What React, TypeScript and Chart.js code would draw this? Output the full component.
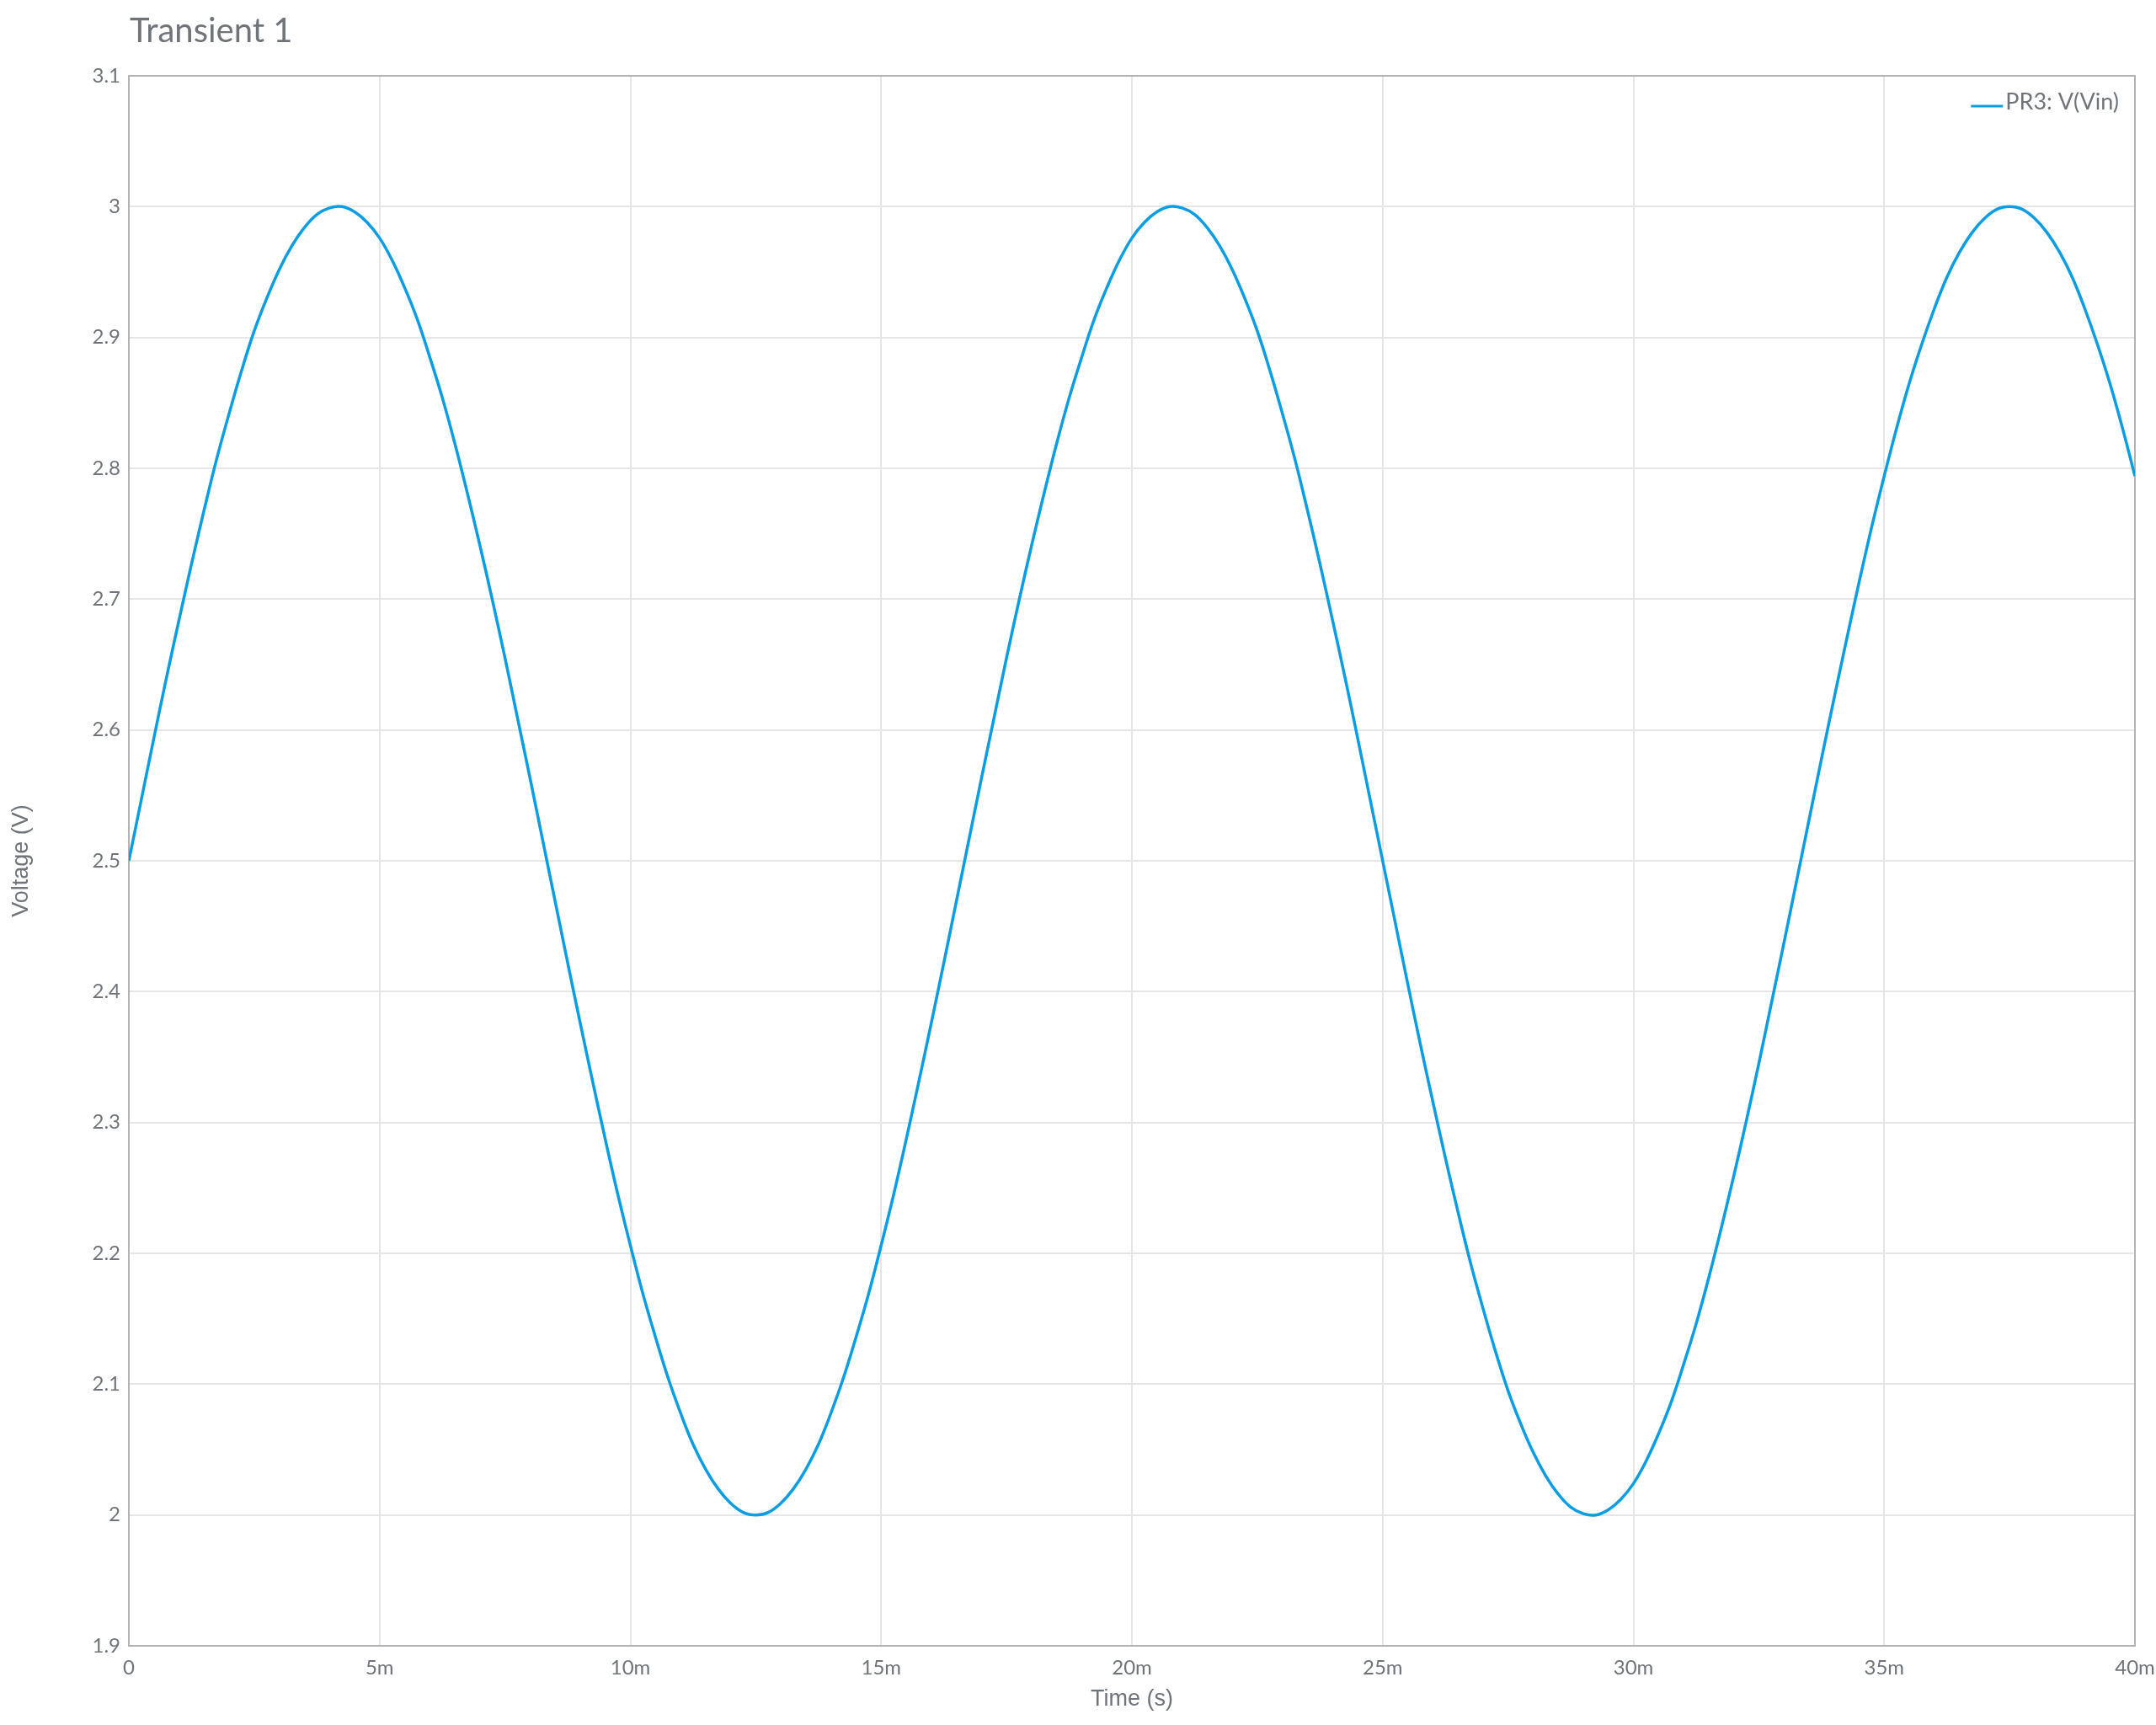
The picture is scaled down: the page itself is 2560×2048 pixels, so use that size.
import React, { useEffect, useRef } from "react";
import { Chart, registerables } from "chart.js";

Chart.register(...registerables);

const TITLE = "Transient 1";
const SERIES_LABEL = "PR3: V(Vin)";
const X_TITLE = "Time (s)";
const Y_TITLE = "Voltage (V)";

// time in milliseconds
const TIME_MS = [
  0, 0.25, 0.5, 0.75, 1, 1.25, 1.5, 1.75, 2, 2.25, 2.5, 2.75, 3, 3.25, 3.5, 3.75,
  4, 4.25, 4.5, 4.75, 5, 5.25, 5.5, 5.75, 6, 6.25, 6.5, 6.75, 7, 7.25, 7.5, 7.75,
  8, 8.25, 8.5, 8.75, 9, 9.25, 9.5, 9.75, 10, 10.25, 10.5, 10.75, 11, 11.25, 11.5, 11.75,
  12, 12.25, 12.5, 12.75, 13, 13.25, 13.5, 13.75, 14, 14.25, 14.5, 14.75, 15, 15.25, 15.5, 15.75,
  16, 16.25, 16.5, 16.75, 17, 17.25, 17.5, 17.75, 18, 18.25, 18.5, 18.75, 19, 19.25, 19.5, 19.75,
  20, 20.25, 20.5, 20.75, 21, 21.25, 21.5, 21.75, 22, 22.25, 22.5, 22.75, 23, 23.25, 23.5, 23.75,
  24, 24.25, 24.5, 24.75, 25, 25.25, 25.5, 25.75, 26, 26.25, 26.5, 26.75, 27, 27.25, 27.5, 27.75,
  28, 28.25, 28.5, 28.75, 29, 29.25, 29.5, 29.75, 30, 30.25, 30.5, 30.75, 31, 31.25, 31.5, 31.75,
  32, 32.25, 32.5, 32.75, 33, 33.25, 33.5, 33.75, 34, 34.25, 34.5, 34.75, 35, 35.25, 35.5, 35.75,
  36, 36.25, 36.5, 36.75, 37, 37.25, 37.5, 37.75, 38, 38.25, 38.5, 38.75, 39, 39.25, 39.5, 39.75,
  40,
];

// voltage in volts
const VOLTAGE = [
  2.5, 2.547, 2.594, 2.64, 2.684, 2.727, 2.768, 2.807, 2.842, 2.875,
  2.905, 2.93, 2.952, 2.97, 2.984, 2.994, 2.999, 3.0, 2.996, 2.988,
  2.976, 2.959, 2.938, 2.914, 2.885, 2.854, 2.819, 2.781, 2.741, 2.699,
  2.655, 2.609, 2.563, 2.516, 2.469, 2.422, 2.376, 2.331, 2.287, 2.245,
  2.206, 2.169, 2.136, 2.105, 2.078, 2.054, 2.035, 2.02, 2.009, 2.002,
  2.0, 2.002, 2.009, 2.02, 2.035, 2.054, 2.078, 2.105, 2.136, 2.169,
  2.206, 2.245, 2.287, 2.331, 2.376, 2.422, 2.469, 2.516, 2.563, 2.609,
  2.655, 2.699, 2.741, 2.781, 2.819, 2.854, 2.885, 2.914, 2.938, 2.959,
  2.976, 2.988, 2.996, 3.0, 2.999, 2.994, 2.984, 2.97, 2.952, 2.93,
  2.905, 2.875, 2.842, 2.807, 2.768, 2.727, 2.684, 2.64, 2.594, 2.547,
  2.5, 2.453, 2.406, 2.36, 2.316, 2.273, 2.232, 2.193, 2.158, 2.125,
  2.095, 2.07, 2.048, 2.03, 2.016, 2.006, 2.001, 2.0, 2.004, 2.012,
  2.024, 2.041, 2.062, 2.086, 2.115, 2.146, 2.181, 2.219, 2.259, 2.301,
  2.345, 2.391, 2.437, 2.484, 2.531, 2.578, 2.624, 2.669, 2.713, 2.755,
  2.794, 2.831, 2.865, 2.895, 2.922, 2.946, 2.965, 2.98, 2.991, 2.998,
  3.0, 2.998, 2.991, 2.98, 2.965, 2.946, 2.922, 2.895, 2.865, 2.831,
  2.794,
];

const X_TICK_LABELS = ["0", "5m", "10m", "15m", "20m", "25m", "30m", "35m", "40m"];
const Y_TICK_LABELS = [
  "1.9", "2", "2.1", "2.2", "2.3", "2.4", "2.5", "2.6", "2.7", "2.8", "2.9", "3", "3.1",
];

const LINE_COLOR = "#0a9de3";
const TEXT_COLOR = "#707479";
const GRID_COLOR = "#e6e6e6";
const BORDER_COLOR = "#b3b3b3";

const framePlugin = {
  id: "frame",
  beforeDatasetsDraw(chart: any) {
    const { ctx, chartArea } = chart;
    ctx.save();
    ctx.strokeStyle = BORDER_COLOR;
    ctx.lineWidth = 2;
    ctx.strokeRect(chartArea.left, chartArea.top, chartArea.right - chartArea.left, chartArea.bottom - chartArea.top);
    ctx.restore();
  },
  afterDraw(chart: any) {
    const { ctx, chartArea } = chart;
    ctx.save();
    // title
    ctx.fillStyle = TEXT_COLOR;
    ctx.font = "40px Lato";
    ctx.textBaseline = "alphabetic";
    ctx.textAlign = "left";
    ctx.fillText(TITLE, chartArea.left + 1, 50);
    // legend
    const ds = chart.data.datasets[0];
    ctx.font = "27px Lato";
    ctx.textBaseline = "middle";
    const label = ds.label as string;
    const w = ctx.measureText(label).width;
    const textRight = chartArea.right - 19;
    const textLeft = textRight - w;
    ctx.fillText(label, textLeft, chartArea.top + 31);
    const ly = chartArea.top + 36;
    ctx.strokeStyle = ds.borderColor;
    ctx.lineWidth = 3;
    ctx.beginPath();
    ctx.moveTo(textLeft - 41, ly);
    ctx.lineTo(textLeft - 3, ly);
    ctx.stroke();
    ctx.restore();
  },
};

export default function App() {
  const canvasRef = useRef<HTMLCanvasElement | null>(null);

  useEffect(() => {
    document.body.style.margin = "0";
    const canvas = canvasRef.current;
    if (!canvas) return;
    const points = TIME_MS.map((t, i) => ({ x: t, y: VOLTAGE[i] }));
    const chart = new Chart(canvas, {
      type: "line",
      data: {
        datasets: [
          {
            label: SERIES_LABEL,
            data: points,
            borderColor: LINE_COLOR,
            backgroundColor: LINE_COLOR,
            borderWidth: 3.5,
            pointRadius: 0,
            tension: 0.4,
            fill: false,
          },
        ],
      },
      options: {
        animation: false,
        responsive: false,
        maintainAspectRatio: false,
        devicePixelRatio: 1,
        layout: { padding: { left: 0, right: 0, top: 90, bottom: 0 } },
        plugins: {
          legend: { display: false },
          title: { display: false },
          tooltip: { enabled: false },
        },
        scales: {
          x: {
            type: "linear",
            min: 0,
            max: 40,
            border: { display: false },
            grid: { color: GRID_COLOR, lineWidth: 2, drawTicks: false },
            ticks: {
              stepSize: 5,
              padding: 12,
              color: TEXT_COLOR,
              font: { family: "Lato", size: 24 },
              maxRotation: 0,
              callback: (_v: any, i: number) => X_TICK_LABELS[i],
            },
            title: {
              display: true,
              text: X_TITLE,
              color: TEXT_COLOR,
              font: { family: "Liberation Sans", size: 27 },
              padding: { top: 0, bottom: 14 },
            },
            afterFit: (scale: any) => {
              scale.height = 94;
              scale.paddingLeft = 0;
              scale.paddingRight = 25;
            },
          },
          y: {
            type: "linear",
            min: 1.9,
            max: 3.1,
            border: { display: false },
            grid: { color: GRID_COLOR, lineWidth: 2, drawTicks: false },
            ticks: {
              stepSize: 0.1,
              padding: 10,
              color: TEXT_COLOR,
              font: { family: "Lato", size: 24 },
              callback: (_v: any, i: number) => Y_TICK_LABELS[i],
            },
            title: {
              display: true,
              text: Y_TITLE,
              color: TEXT_COLOR,
              font: { family: "Liberation Sans", size: 27 },
              padding: { top: 9, bottom: 0 },
            },
            afterFit: (scale: any) => {
              scale.width = 153;
              scale.paddingTop = 0;
              scale.paddingBottom = 0;
            },
          },
        },
      },
      plugins: [framePlugin],
    });
    return () => chart.destroy();
  }, []);

  return (
    <div style={{ width: 2560, height: 2048 }}>
      <canvas ref={canvasRef} width={2560} height={2048} style={{ width: 2560, height: 2048, display: "block" }} />
    </div>
  );
}
